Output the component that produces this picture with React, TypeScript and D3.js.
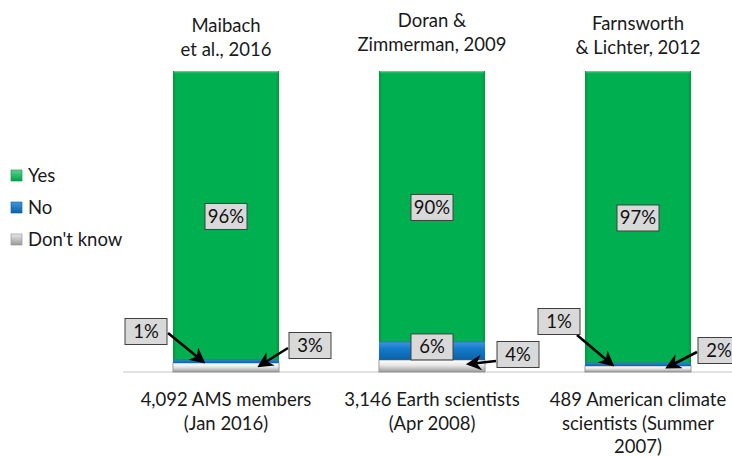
import React from 'react';
import * as d3 from 'd3';

// survey data (percent)
const studies = ['Maibach', 'Doran', 'Farnsworth'];
const titleLines = [
  ['Maibach', 'et al., 2016'],
  ['Doran &', 'Zimmerman, 2009'],
  ['Farnsworth', '& Lichter, 2012'],
];
const sampleLines = [
  ['4,092 AMS members', '(Jan 2016)'],
  ['3,146 Earth scientists', '(Apr 2008)'],
  ['489 American climate', 'scientists (Summer', '2007)'],
];
const yesValues = [96, 90, 97];
const noValues = [1, 6, 1];
const dkValues = [3, 4, 2];
const seriesNames = ['Yes', 'No', "Don't know"];

// callouts for the small segments: which bar, series, label box offset
const callouts = [
  { bar: 0, series: 'No', value: 1, boxX: 124, boxY: 318, fromX: 168, fromY: 333, tipDx: 30 },
  { bar: 0, series: 'DK', value: 3, boxX: 288, boxY: 332, fromX: 288, fromY: 348, tipDx: 87 },
  { bar: 1, series: 'DK', value: 4, boxX: 496, boxY: 341, fromX: 496, fromY: 361, tipDx: 90 },
  { bar: 2, series: 'No', value: 1, boxX: 537, boxY: 308, fromX: 577, fromY: 335, tipDx: 27 },
  { bar: 2, series: 'DK', value: 2, boxX: 697, boxY: 337, fromX: 697, fromY: 352, tipDx: 83 },
];

const W = 732;
const H = 457;
const FONT = 'Lato, "Open Sans", sans-serif';

const x = d3.scaleBand<string>()
  .domain(studies)
  .range([123, 741])
  .paddingInner(0.485)
  .paddingOuter(0.2425);
const y = d3.scaleLinear().domain([0, 100]).range([372, 71]);

function LabelBox({ cx, cy, text }: { cx: number; cy: number; text: string }) {
  const w = 42;
  const h = 26;
  return (
    <g>
      <rect x={cx - w / 2} y={cy - h / 2} width={w} height={h} fill="#d9d9d9" stroke="#404040" strokeWidth={1} />
      <text x={cx} y={cy + 6.5} textAnchor="middle" fontSize={18.5} fill="#111" fontFamily={FONT}>{text}</text>
    </g>
  );
}

export default function App() {
  const bw = x.bandwidth();
  return (
    <svg width={W} height={H} style={{ position: 'absolute', left: 0, top: 0, background: '#fff' }}>
      <defs>
        <linearGradient id="gYes" x1="0" x2="1" y1="0" y2="0">
          <stop offset="0%" stopColor="#0a8f3f" />
          <stop offset="3%" stopColor="#00b050" />
          <stop offset="97%" stopColor="#00b050" />
          <stop offset="100%" stopColor="#0a8f3f" />
        </linearGradient>
        <linearGradient id="gYesTop" x1="0" x2="0" y1="0" y2="1">
          <stop offset="0%" stopColor="#7be3a6" />
          <stop offset="100%" stopColor="#00b050" stopOpacity={0} />
        </linearGradient>
        <linearGradient id="gNo" x1="0" x2="0" y1="0" y2="1">
          <stop offset="0%" stopColor="#3c97e0" />
          <stop offset="40%" stopColor="#1479c9" />
          <stop offset="100%" stopColor="#0a62a8" />
        </linearGradient>
        <linearGradient id="gDk" x1="0" x2="0" y1="0" y2="1">
          <stop offset="0%" stopColor="#ffffff" />
          <stop offset="45%" stopColor="#e6e6e6" />
          <stop offset="100%" stopColor="#9a9a9a" />
        </linearGradient>
        <linearGradient id="gLegYes" x1="0" x2="0" y1="0" y2="1">
          <stop offset="0%" stopColor="#5fd38f" />
          <stop offset="100%" stopColor="#00a048" />
        </linearGradient>
        <linearGradient id="gLegNo" x1="0" x2="0" y1="0" y2="1">
          <stop offset="0%" stopColor="#3c97e0" />
          <stop offset="100%" stopColor="#0a62a8" />
        </linearGradient>
        <linearGradient id="gLegDk" x1="0" x2="0" y1="0" y2="1">
          <stop offset="0%" stopColor="#e8e8e8" />
          <stop offset="100%" stopColor="#9a9a9a" />
        </linearGradient>
        <marker id="arrow" viewBox="0 0 10 10" refX={8} refY={5} markerWidth={6} markerHeight={6} orient="auto" markerUnits="strokeWidth">
          <path d="M0,0 L10,5 L0,10 L3,5 z" fill="#000" />
        </marker>
      </defs>

      {/* axis baseline */}
      <line x1={123} x2={W} y1={y(0)} y2={y(0)} stroke="#d9d9d9" strokeWidth={1.5} />

      {/* bars */}
      {studies.map((s, i) => {
        const x0 = x(s)!;
        const dk = dkValues[i];
        const no = noValues[i];
        const yes = yesValues[i];
        const yesTop = y(dk + no + yes);
        const yesBot = y(dk + no);
        return (
          <g key={s}>
            <rect x={x0} y={y(dk)} width={bw} height={y(0) - y(dk)} fill="url(#gDk)" stroke="#8c8c8c" strokeWidth={0.8} />
            <rect x={x0} y={y(dk + no)} width={bw} height={y(dk) - y(dk + no)} fill="url(#gNo)" />
            <rect x={x0} y={yesTop} width={bw} height={yesBot - yesTop} fill="url(#gYes)" />
            <rect x={x0 + 1} y={yesTop} width={bw - 2} height={3} fill="url(#gYesTop)" />
            <line x1={x0} x2={x0 + bw} y1={yesBot} y2={yesBot} stroke="#2a6fa8" strokeWidth={1} />
            <LabelBox cx={x0 + bw / 2} cy={(yesTop + yesBot) / 2 + 1} text={`${yes}%`} />
            {no >= 5 && (
              <LabelBox cx={x0 + bw / 2} cy={(y(dk) + y(dk + no)) / 2 - 4} text={`${no}%`} />
            )}
          </g>
        );
      })}

      {/* callouts with arrows */}
      {callouts.map((c, k) => {
        const s = studies[c.bar];
        const dk = dkValues[c.bar];
        const no = noValues[c.bar];
        const tipY = c.series === 'No' ? y(dk + no / 2) : y(dk / 2) - 2;
        const tipX = x(s)! + c.tipDx;
        return (
          <g key={k}>
            <line x1={c.fromX} y1={c.fromY} x2={tipX} y2={tipY} stroke="#000" strokeWidth={2.6} markerEnd="url(#arrow)" />
            <LabelBox cx={c.boxX + 22} cy={c.boxY + 13.5} text={`${c.value}%`} />
          </g>
        );
      })}

      {/* titles above bars */}
      {studies.map((s, i) => (
        <text key={s} textAnchor="middle" fontSize={18.5} fill="#1a1a1a" fontFamily={FONT}>
          {titleLines[i].map((t, j) => (
            <tspan key={j} x={x(s)! + bw / 2} y={[32, 27, 30][i] + j * 24}>{t}</tspan>
          ))}
        </text>
      ))}

      {/* sample descriptions */}
      {studies.map((s, i) => (
        <text key={s} textAnchor="middle" fontSize={18.5} fill="#1a1a1a" fontFamily={FONT}>
          {sampleLines[i].map((t, j) => (
            <tspan key={j} x={x(s)! + bw / 2} y={406 + j * 23.5}>{t}</tspan>
          ))}
        </text>
      ))}

      {/* legend */}
      {seriesNames.map((n, i) => (
        <g key={n} transform={`translate(11, ${170 + i * 32})`}>
          <rect x={0} y={0} width={11} height={11} fill={['url(#gLegYes)', 'url(#gLegNo)', 'url(#gLegDk)'][i]} stroke={['#0a8f3f', '#0a5a9a', '#8c8c8c'][i]} strokeWidth={0.6} />
          <text x={17} y={12} fontSize={18.5} fill="#1a1a1a" fontFamily={FONT}>{n}</text>
        </g>
      ))}
    </svg>
  );
}
